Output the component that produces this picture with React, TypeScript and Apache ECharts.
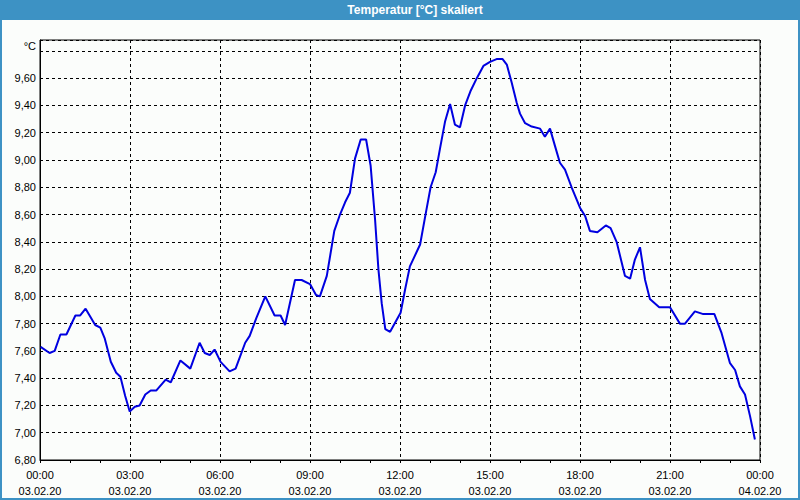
import { useEffect, useRef } from "react";
import * as echarts from "echarts";

// time of day in hours (03.02.20)
const timeHours = [
  0.02, 0.32, 0.49, 0.68, 0.88, 1.18, 1.34, 1.52, 1.84, 2.01,
  2.16, 2.36, 2.54, 2.68, 2.84, 2.99, 3.16, 3.32, 3.51, 3.69,
  3.88, 4.19, 4.36, 4.68, 5.01, 5.32, 5.49, 5.66, 5.82, 6.02,
  6.32, 6.52, 6.84, 6.99, 7.21, 7.51, 7.82, 8.02, 8.17, 8.5,
  8.72, 9.0, 9.2, 9.33, 9.56, 9.81, 10.0, 10.17, 10.33, 10.5,
  10.69, 10.87, 11.02, 11.17, 11.28, 11.39, 11.51, 11.67, 12.02, 12.17,
  12.33, 12.67, 12.86, 13.02, 13.19, 13.33, 13.5, 13.67, 13.83, 14.0,
  14.17, 14.36, 14.56, 14.78, 15.0, 15.22, 15.42, 15.56, 15.72, 15.89,
  16.0, 16.17, 16.39, 16.67, 16.83, 17.0, 17.17, 17.33, 17.5, 17.72,
  18.0, 18.17, 18.33, 18.58, 18.86, 19.02, 19.22, 19.5, 19.67, 19.83,
  20.0, 20.17, 20.33, 20.64, 21.0, 21.33, 21.5, 21.83, 22.11, 22.48,
  22.72, 23.0, 23.17, 23.33, 23.5, 23.67, 23.83,
];

// temperature in °C
const temperatures = [
  7.63, 7.585, 7.6, 7.72, 7.72, 7.86, 7.86, 7.91, 7.79, 7.77,
  7.69, 7.52, 7.44, 7.41, 7.27, 7.155, 7.19, 7.2, 7.28, 7.31,
  7.31, 7.39, 7.37, 7.53, 7.47, 7.66, 7.585, 7.57, 7.61, 7.52,
  7.45, 7.47, 7.66, 7.71, 7.84, 8.0, 7.86, 7.86, 7.79, 8.12,
  8.12, 8.09, 8.01, 8.0, 8.15, 8.48, 8.6, 8.69, 8.76, 9.01,
  9.15, 9.15, 8.96, 8.56, 8.2, 7.95, 7.76, 7.74, 7.88, 8.05,
  8.22, 8.38, 8.61, 8.8, 8.91, 9.08, 9.28, 9.41, 9.26, 9.24,
  9.4, 9.51, 9.6, 9.69, 9.72, 9.74, 9.74, 9.7, 9.57, 9.42,
  9.34, 9.27, 9.245, 9.23, 9.17, 9.23, 9.1, 8.98, 8.93, 8.8,
  8.65, 8.59, 8.48, 8.47, 8.52, 8.5, 8.4, 8.15, 8.13, 8.27,
  8.36, 8.12, 7.98, 7.92, 7.92, 7.8, 7.8, 7.89, 7.87, 7.87,
  7.73, 7.51, 7.46, 7.34, 7.28, 7.12, 6.95,
];

const xTickHours = [0, 3, 6, 9, 12, 15, 18, 21, 24];
const xTickTimes = ["00:00", "03:00", "06:00", "09:00", "12:00", "15:00", "18:00", "21:00", "00:00"];
const xTickDates = ["03.02.20", "03.02.20", "03.02.20", "03.02.20", "03.02.20", "03.02.20", "03.02.20", "03.02.20", "04.02.20"];

const titleText = "Temperatur [°C] skaliert";
const unitText = "°C";

const FONT = '"Liberation Sans", Arial, sans-serif';
const BAR = "#3d92c4";

export default function App() {
  const ref = useRef<HTMLDivElement>(null);

  useEffect(() => {
    if (!ref.current) return;
    const chart = echarts.init(ref.current, undefined, { renderer: "svg" });
    const data = timeHours.map((t, i) => [t, temperatures[i]]);

    chart.setOption({
      animation: false,
      backgroundColor: "#fbfdfb",
      textStyle: { fontFamily: FONT },
      grid: {
        left: 40,
        right: 40,
        top: 40,
        bottom: 40,
        show: true,
        borderColor: "#000",
        borderWidth: 1,
        backgroundColor: "transparent",
      },
      xAxis: {
        type: "value",
        min: 0,
        max: 24,
        interval: 3,
        axisLine: { show: true, lineStyle: { color: "#000", width: 1 } },
        axisTick: { show: true, length: 3, lineStyle: { color: "#000" } },
        minorTick: { show: true, splitNumber: 3, length: 3, lineStyle: { color: "#000" } },
        splitLine: { show: true, lineStyle: { color: "#000", type: [3, 3], width: 1 } },
        axisLabel: {
          show: true,
          showMinLabel: true,
          showMaxLabel: true,
          margin: 7,
          color: "#000",
          fontFamily: FONT,
          fontSize: 11,
          lineHeight: 16,
          formatter: (v: number) => {
            const i = xTickHours.indexOf(Math.round(v));
            return i >= 0 ? xTickTimes[i] + "\n" + xTickDates[i] : "";
          },
        },
      },
      yAxis: {
        type: "value",
        min: 6.8,
        max: 9.88,
        interval: 0.2,
        axisLine: { show: true, lineStyle: { color: "#000", width: 1 } },
        axisTick: { show: false },
        splitLine: { show: true, lineStyle: { color: "#000", type: [3, 3], width: 1 } },
        axisLabel: {
          margin: 4,
          color: "#000",
          fontFamily: FONT,
          fontSize: 11,
          formatter: (v: number) => (v > 9.7 ? "" : v.toFixed(2).replace(".", ",")),
        },
      },
      graphic: [
        {
          type: "rect",
          z: 100,
          shape: { x: 0, y: 0, width: 800, height: 20 },
          style: { fill: BAR },
        },
        {
          type: "rect",
          z: 100,
          shape: { x: 1, y: 1, width: 798, height: 498 },
          style: { fill: "none", stroke: BAR, lineWidth: 2 },
        },
        {
          type: "text",
          z: 101,
          x: 415,
          y: 10,
          style: {
            text: titleText,
            fill: "#fff",
            font: `bold 12px ${FONT}`,
            align: "center",
            verticalAlign: "middle",
            textAlign: "center",
            textVerticalAlign: "middle",
          },
        },
        {
          type: "text",
          z: 101,
          x: 36,
          y: 46,
          style: {
            text: unitText,
            fill: "#000",
            font: `11px ${FONT}`,
            align: "right",
            verticalAlign: "middle",
            textAlign: "right",
            textVerticalAlign: "middle",
          },
        },
      ],
      series: [
        {
          type: "line",
          data,
          showSymbol: false,
          symbol: "none",
          lineStyle: { color: "#0000e0", width: 2 },
          z: 5,
        },
      ],
    });

    return () => chart.dispose();
  }, []);

  return (
    <div
      ref={ref}
      style={{ position: "fixed", left: 0, top: 0, width: 800, height: 500 }}
    />
  );
}
